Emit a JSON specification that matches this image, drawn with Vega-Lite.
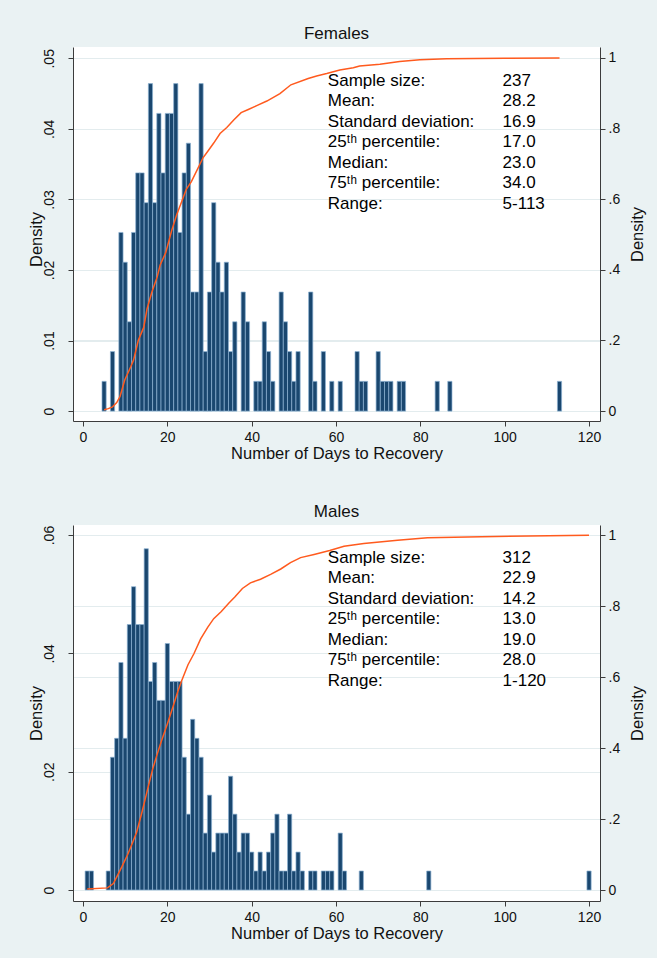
{
  "$schema": "https://vega.github.io/schema/vega-lite/v6.json",
  "background": "#EAF2F3",
  "padding": {"left": 28, "top": 25, "right": 10, "bottom": 17},
  "config": {
    "font": "Liberation Sans",
    "view": {"fill": "white", "stroke": null},
    "scale": {"continuousPadding": 0},
    "axis": {
      "domainColor": "#3c3c3c",
      "tickColor": "#3c3c3c",
      "tickSize": 5,
      "labelColor": "#111111",
      "labelFont": "Liberation Sans",
      "labelFontSize": 14,
      "titleFont": "Liberation Sans",
      "titleFontSize": 16.5,
      "titleFontWeight": "normal",
      "titleColor": "#111111",
      "gridColor": "#E3ECEE",
      "gridWidth": 1
    },
    "title": {"font": "Liberation Sans", "fontSize": 17, "fontWeight": "normal", "color": "#111111", "offset": 4}
  },
  "datasets": {
    "females": [
      {"day": 5, "density": 0.00422}, {"day": 7, "density": 0.00844}, {"day": 9, "density": 0.02532},
      {"day": 10, "density": 0.02110}, {"day": 11, "density": 0.01266}, {"day": 12, "density": 0.02532},
      {"day": 13, "density": 0.03376}, {"day": 14, "density": 0.03376}, {"day": 15, "density": 0.02954},
      {"day": 16, "density": 0.04641}, {"day": 17, "density": 0.02954}, {"day": 18, "density": 0.04219},
      {"day": 19, "density": 0.03376}, {"day": 20, "density": 0.04219}, {"day": 21, "density": 0.04219},
      {"day": 22, "density": 0.04641}, {"day": 23, "density": 0.02532}, {"day": 24, "density": 0.03376},
      {"day": 25, "density": 0.03797}, {"day": 26, "density": 0.01688}, {"day": 27, "density": 0.01688},
      {"day": 28, "density": 0.04641}, {"day": 29, "density": 0.00844}, {"day": 30, "density": 0.01688},
      {"day": 31, "density": 0.02954}, {"day": 32, "density": 0.02110}, {"day": 33, "density": 0.01688},
      {"day": 34, "density": 0.02110}, {"day": 35, "density": 0.00844}, {"day": 36, "density": 0.01266},
      {"day": 38, "density": 0.01688}, {"day": 39, "density": 0.01266}, {"day": 41, "density": 0.00422},
      {"day": 42, "density": 0.00422}, {"day": 43, "density": 0.01266}, {"day": 44, "density": 0.00844},
      {"day": 45, "density": 0.00422}, {"day": 47, "density": 0.01688}, {"day": 48, "density": 0.01266},
      {"day": 49, "density": 0.00844}, {"day": 50, "density": 0.00422}, {"day": 51, "density": 0.00844},
      {"day": 54, "density": 0.01688}, {"day": 55, "density": 0.00422}, {"day": 57, "density": 0.00844},
      {"day": 59, "density": 0.00422}, {"day": 61, "density": 0.00422}, {"day": 65, "density": 0.00844},
      {"day": 66, "density": 0.00422}, {"day": 67, "density": 0.00422}, {"day": 70, "density": 0.00844},
      {"day": 71, "density": 0.00422}, {"day": 72, "density": 0.00422}, {"day": 73, "density": 0.00422},
      {"day": 75, "density": 0.00422}, {"day": 76, "density": 0.00422}, {"day": 84, "density": 0.00422},
      {"day": 87, "density": 0.00422}, {"day": 113, "density": 0.00422}
    ],
    "males": [
      {"day": 1, "density": 0.00321}, {"day": 2, "density": 0.00321}, {"day": 6, "density": 0.00321},
      {"day": 7, "density": 0.02244}, {"day": 8, "density": 0.02564}, {"day": 9, "density": 0.03846},
      {"day": 10, "density": 0.02564}, {"day": 11, "density": 0.04487}, {"day": 12, "density": 0.05128},
      {"day": 13, "density": 0.04487}, {"day": 14, "density": 0.04487}, {"day": 15, "density": 0.05769},
      {"day": 16, "density": 0.03526}, {"day": 17, "density": 0.03846}, {"day": 18, "density": 0.03205},
      {"day": 19, "density": 0.03205}, {"day": 20, "density": 0.04167}, {"day": 21, "density": 0.03526},
      {"day": 22, "density": 0.03526}, {"day": 23, "density": 0.03526}, {"day": 24, "density": 0.02244},
      {"day": 25, "density": 0.01282}, {"day": 26, "density": 0.02885}, {"day": 27, "density": 0.02564},
      {"day": 28, "density": 0.02244}, {"day": 29, "density": 0.00962}, {"day": 30, "density": 0.01603},
      {"day": 31, "density": 0.00641}, {"day": 32, "density": 0.00962}, {"day": 33, "density": 0.00962},
      {"day": 34, "density": 0.00962}, {"day": 35, "density": 0.01923}, {"day": 36, "density": 0.01282},
      {"day": 37, "density": 0.00641}, {"day": 38, "density": 0.00962}, {"day": 39, "density": 0.00962},
      {"day": 40, "density": 0.00641}, {"day": 41, "density": 0.00321}, {"day": 42, "density": 0.00641},
      {"day": 43, "density": 0.00321}, {"day": 44, "density": 0.00641}, {"day": 45, "density": 0.00962},
      {"day": 46, "density": 0.01282}, {"day": 47, "density": 0.00321}, {"day": 48, "density": 0.00321},
      {"day": 49, "density": 0.01282}, {"day": 50, "density": 0.00321}, {"day": 51, "density": 0.00641},
      {"day": 52, "density": 0.00321}, {"day": 54, "density": 0.00321}, {"day": 55, "density": 0.00321},
      {"day": 57, "density": 0.00321}, {"day": 58, "density": 0.00321}, {"day": 59, "density": 0.00321},
      {"day": 61, "density": 0.00962}, {"day": 62, "density": 0.00321}, {"day": 66, "density": 0.00321},
      {"day": 82, "density": 0.00321}, {"day": 120, "density": 0.00321}
    ],
    "femcum": [
      {"day": 5, "cum": 0.004}, {"day": 6, "cum": 0.007}, {"day": 7, "cum": 0.012}, {"day": 8, "cum": 0.024},
      {"day": 8.8, "cum": 0.042}, {"day": 9.9, "cum": 0.088}, {"day": 11.3, "cum": 0.125}, {"day": 12, "cum": 0.145},
      {"day": 13.1, "cum": 0.2}, {"day": 14.4, "cum": 0.237}, {"day": 15.2, "cum": 0.29}, {"day": 16.3, "cum": 0.336},
      {"day": 17.6, "cum": 0.38}, {"day": 18.3, "cum": 0.414}, {"day": 19.6, "cum": 0.448}, {"day": 21, "cum": 0.51},
      {"day": 22.2, "cum": 0.555}, {"day": 23.3, "cum": 0.59}, {"day": 24.5, "cum": 0.628}, {"day": 25.7, "cum": 0.65},
      {"day": 27.1, "cum": 0.684}, {"day": 28.5, "cum": 0.718}, {"day": 29.6, "cum": 0.736}, {"day": 31, "cum": 0.759},
      {"day": 32.5, "cum": 0.786}, {"day": 34.1, "cum": 0.803}, {"day": 35.8, "cum": 0.825}, {"day": 37.5, "cum": 0.845},
      {"day": 39.2, "cum": 0.854}, {"day": 41.2, "cum": 0.865}, {"day": 43.6, "cum": 0.878}, {"day": 46.7, "cum": 0.899},
      {"day": 49.3, "cum": 0.924}, {"day": 53.4, "cum": 0.942}, {"day": 55.4, "cum": 0.949}, {"day": 57.8, "cum": 0.956},
      {"day": 60.9, "cum": 0.966}, {"day": 64.1, "cum": 0.972}, {"day": 65.6, "cum": 0.977}, {"day": 70.4, "cum": 0.982},
      {"day": 75.1, "cum": 0.99}, {"day": 79.9, "cum": 0.995}, {"day": 86.2, "cum": 0.998}, {"day": 100, "cum": 0.999},
      {"day": 113, "cum": 1.0}
    ],
    "malecum": [
      {"day": 1, "cum": 0.003}, {"day": 5.8, "cum": 0.006}, {"day": 7.2, "cum": 0.018}, {"day": 8.1, "cum": 0.039},
      {"day": 9.2, "cum": 0.065}, {"day": 10.6, "cum": 0.1}, {"day": 11.6, "cum": 0.129}, {"day": 12.7, "cum": 0.162},
      {"day": 14, "cum": 0.22}, {"day": 15.3, "cum": 0.283}, {"day": 16.5, "cum": 0.34}, {"day": 17.6, "cum": 0.383},
      {"day": 18.6, "cum": 0.42}, {"day": 20, "cum": 0.468}, {"day": 21.3, "cum": 0.515}, {"day": 22.5, "cum": 0.56},
      {"day": 23.4, "cum": 0.59}, {"day": 24.9, "cum": 0.635}, {"day": 26.3, "cum": 0.666}, {"day": 27.9, "cum": 0.708},
      {"day": 29.6, "cum": 0.741}, {"day": 31, "cum": 0.765}, {"day": 32.8, "cum": 0.785}, {"day": 34.5, "cum": 0.808},
      {"day": 36, "cum": 0.826}, {"day": 37.8, "cum": 0.85}, {"day": 39.7, "cum": 0.866}, {"day": 42.1, "cum": 0.876},
      {"day": 44.5, "cum": 0.89}, {"day": 46.9, "cum": 0.905}, {"day": 49.2, "cum": 0.923}, {"day": 51.6, "cum": 0.937},
      {"day": 54.8, "cum": 0.946}, {"day": 58.5, "cum": 0.957}, {"day": 61.9, "cum": 0.969}, {"day": 66.6, "cum": 0.977},
      {"day": 74.6, "cum": 0.986}, {"day": 81.7, "cum": 0.993}, {"day": 94.4, "cum": 0.996}, {"day": 120, "cum": 1.0}
    ],
    "femstats": [
      {"row": 1, "label": "Sample size:", "value": "237"},
      {"row": 2, "label": "Mean:", "value": "28.2"},
      {"row": 3, "label": "Standard deviation:", "value": "16.9"},
      {"row": 4, "label": "25ᵗʰ percentile:", "value": "17.0"},
      {"row": 5, "label": "Median:", "value": "23.0"},
      {"row": 6, "label": "75ᵗʰ percentile:", "value": "34.0"},
      {"row": 7, "label": "Range:", "value": "5-113"}
    ],
    "malestats": [
      {"row": 1, "label": "Sample size:", "value": "312"},
      {"row": 2, "label": "Mean:", "value": "22.9"},
      {"row": 3, "label": "Standard deviation:", "value": "14.2"},
      {"row": 4, "label": "25ᵗʰ percentile:", "value": "13.0"},
      {"row": 5, "label": "Median:", "value": "19.0"},
      {"row": 6, "label": "75ᵗʰ percentile:", "value": "28.0"},
      {"row": 7, "label": "Range:", "value": "1-120"}
    ]
  },
  "bounds": "flush",
  "spacing": 104,
  "vconcat": [
    {
      "title": {"text": "Females"},
      "width": 527,
      "height": 374,
      "resolve": {"scale": {"y": "independent"}},
      "layer": [
        {
          "data": {"name": "females"},
          "mark": {"type": "bar", "width": 4.2, "fill": "#1A476F", "stroke": "#8DB2D3", "strokeWidth": 0.7},
          "encoding": {
            "x": {"field": "day", "type": "quantitative",
              "scale": {"domain": [-2.37, 122.6], "nice": false, "zero": false, "padding": 0},
              "axis": {"title": "Number of Days to Recovery", "values": [0, 20, 40, 60, 80, 100, 120], "labelPadding": 4, "titlePadding": 1, "grid": false}},
            "y": {"field": "density", "type": "quantitative",
              "scale": {"domain": [-0.0014, 0.0516], "nice": false, "zero": false},
              "axis": {"orient": "left", "title": "Density", "titleY": 192, "values": [0, 0.01, 0.02, 0.03, 0.04, 0.05], "labelAngle": -90, "labelAlign": "center", "labelBaseline": "bottom", "labelPadding": 12, "titlePadding": -2, "grid": true,
                "labelExpr": "datum.value == 0 ? '0' : substring(format(datum.value, '.2~f'), 1)"}},
            "y2": {"datum": 0}
          }
        },
        {
          "data": {"name": "femcum"},
          "mark": {"type": "line", "color": "#FF5A1E", "strokeWidth": 1.5},
          "encoding": {
            "x": {"field": "day", "type": "quantitative", "scale": {"domain": [-2.37, 122.6], "nice": false, "zero": false, "padding": 0}},
            "y": {"field": "cum", "type": "quantitative",
              "scale": {"domain": [-0.028, 1.031], "nice": false, "zero": false},
              "axis": {"orient": "right", "title": "Density", "values": [0, 0.2, 0.4, 0.6, 0.8, 1], "labelPadding": 3, "titleAngle": -90, "titleBaseline": "top", "titlePadding": 10, "grid": true,
                "labelExpr": "datum.value == 0 || datum.value == 1 ? format(datum.value, 'd') : substring(format(datum.value, '.1f'), 1)"}}
          }
        },
        {
          "data": {"name": "femstats"},
          "encoding": {
            "y": {"field": "row", "type": "quantitative", "scale": {"domain": [-0.659, 17.59], "reverse": true, "nice": false, "zero": false}, "axis": null}
          },
          "layer": [
            {"mark": {"type": "text", "align": "left", "baseline": "middle", "fontSize": 17, "color": "#000000"},
             "encoding": {"x": {"datum": 58.06, "type": "quantitative"}, "text": {"field": "label"}}},
            {"mark": {"type": "text", "align": "left", "baseline": "middle", "fontSize": 17, "color": "#000000"},
             "encoding": {"x": {"datum": 99.5, "type": "quantitative"}, "text": {"field": "value"}}}
          ]
        }
      ]
    },
    {
      "title": {"text": "Males"},
      "width": 527,
      "height": 376,
      "resolve": {"scale": {"y": "independent"}},
      "layer": [
        {
          "data": {"name": "males"},
          "mark": {"type": "bar", "width": 4.2, "fill": "#1A476F", "stroke": "#8DB2D3", "strokeWidth": 0.7},
          "encoding": {
            "x": {"field": "day", "type": "quantitative",
              "scale": {"domain": [-2.37, 122.6], "nice": false, "zero": false, "padding": 0},
              "axis": {"title": "Number of Days to Recovery", "values": [0, 20, 40, 60, 80, 100, 120], "labelPadding": 4, "titlePadding": 1, "grid": false}},
            "y": {"field": "density", "type": "quantitative",
              "scale": {"domain": [-0.00186, 0.0617], "nice": false, "zero": false},
              "axis": {"orient": "left", "title": "Density", "values": [0, 0.02, 0.04, 0.06], "labelAngle": -90, "labelAlign": "center", "labelBaseline": "bottom", "labelPadding": 12, "titlePadding": -2, "grid": true,
                "labelExpr": "datum.value == 0 ? '0' : substring(format(datum.value, '.2~f'), 1)"}},
            "y2": {"datum": 0}
          }
        },
        {
          "data": {"name": "malecum"},
          "mark": {"type": "line", "color": "#FF5A1E", "strokeWidth": 1.5},
          "encoding": {
            "x": {"field": "day", "type": "quantitative", "scale": {"domain": [-2.37, 122.6], "nice": false, "zero": false, "padding": 0}},
            "y": {"field": "cum", "type": "quantitative",
              "scale": {"domain": [-0.031, 1.029], "nice": false, "zero": false},
              "axis": {"orient": "right", "title": "Density", "values": [0, 0.2, 0.4, 0.6, 0.8, 1], "labelPadding": 3, "titleAngle": -90, "titleBaseline": "top", "titlePadding": 10, "grid": true,
                "labelExpr": "datum.value == 0 || datum.value == 1 ? format(datum.value, 'd') : substring(format(datum.value, '.1f'), 1)"}}
          }
        },
        {
          "data": {"name": "malestats"},
          "encoding": {
            "y": {"field": "row", "type": "quantitative", "scale": {"domain": [-0.595, 17.75], "reverse": true, "nice": false, "zero": false}, "axis": null}
          },
          "layer": [
            {"mark": {"type": "text", "align": "left", "baseline": "middle", "fontSize": 17, "color": "#000000"},
             "encoding": {"x": {"datum": 58.06, "type": "quantitative"}, "text": {"field": "label"}}},
            {"mark": {"type": "text", "align": "left", "baseline": "middle", "fontSize": 17, "color": "#000000"},
             "encoding": {"x": {"datum": 99.5, "type": "quantitative"}, "text": {"field": "value"}}}
          ]
        }
      ]
    }
  ]
}
